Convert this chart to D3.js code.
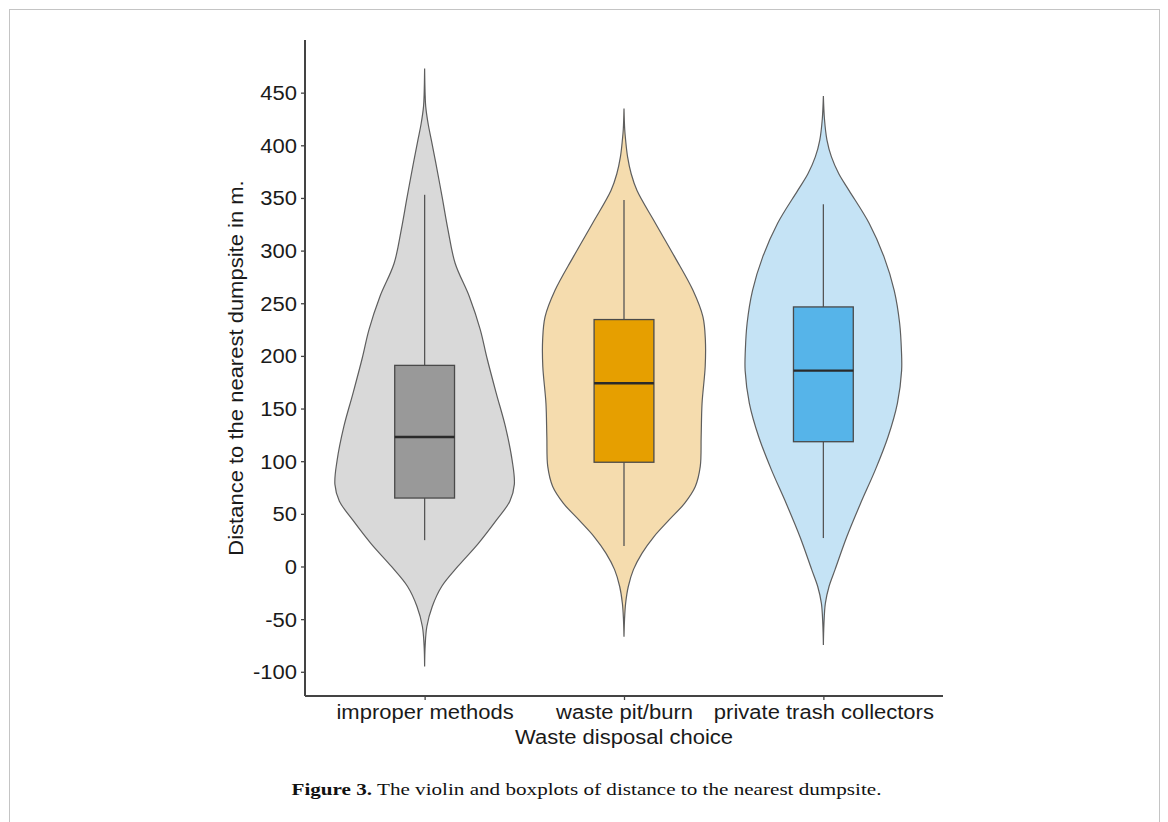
<!DOCTYPE html>
<html><head><meta charset="utf-8">
<script src="https://cdn.jsdelivr.net/npm/d3@7"></script>
<style>html,body{margin:0;padding:0;background:#fff;} svg{display:block;}</style>
</head><body><svg id="c" width="1168" height="822"></svg>
<script>
// ---------------- data ----------------
const categories = ["improper methods", "waste pit/burn", "private trash collectors"];
const yTicks = [-100, -50, 0, 50, 100, 150, 200, 250, 300, 350, 400, 450];
const yAxisTitle = "Distance to the nearest dumpsite in m.";
const xAxisTitle = "Waste disposal choice";
const captionBold = "Figure 3.";
const captionText = " The violin and boxplots of distance to the nearest dumpsite.";

// box statistics: [lower whisker, Q1, median, Q3, upper whisker]
const boxImproper = [25, 65, 123, 191, 353];
const boxPit = [19.5, 99, 174, 234.5, 348];
const boxPrivate = [27, 118.5, 186, 246.5, 344];

// violin outlines: [value, relative width (1 = widest violin)]
const violinImproper = [
  [473, 0], [450, 0.005], [437, 0.012], [420, 0.04], [405, 0.075], [383, 0.125], [351, 0.195],
  [320, 0.26], [288, 0.34], [256, 0.5], [225, 0.62], [198, 0.695], [164, 0.8],
  [133, 0.9], [101, 0.975], [78, 1.0], [62, 0.95], [44, 0.8], [22, 0.6],
  [0, 0.37], [-19, 0.19], [-38, 0.085], [-57, 0.025], [-75, 0.006], [-95, 0]
];
const violinPit = [
  [435, 0], [415, 0.008], [405, 0.018], [389, 0.04], [373, 0.08], [357, 0.145], [326, 0.35],
  [294, 0.565], [262, 0.77], [237, 0.88], [215, 0.907], [190, 0.905], [155, 0.87],
  [123, 0.86], [95, 0.85], [76, 0.795], [60, 0.675], [44, 0.5], [28, 0.33],
  [12.5, 0.2], [-3, 0.105], [-19, 0.048], [-35, 0.018], [-50, 0.006], [-66.6, 0]
];
const violinPrivate = [
  [446.7, 0], [425, 0.012], [405, 0.04], [389, 0.09], [373, 0.172], [357, 0.287],
  [326, 0.51], [294, 0.676], [262, 0.79], [231, 0.85], [205, 0.87], [186, 0.872],
  [155, 0.825], [123, 0.72], [92, 0.58], [60, 0.415], [28, 0.26], [-3, 0.13],
  [-19, 0.063], [-35, 0.022], [-55, 0.006], [-74.5, 0]
];

// ---------------- styles ----------------
const violinFill = ["#d9d9d9", "#f5dcae", "#c5e3f5"];
const boxFill = ["#999999", "#e69f00", "#56b4e9"];

(function () {
const sans = "'Liberation Sans', Arial, Helvetica, sans-serif";
const serif = "'Liberation Serif', 'Times New Roman', serif";

const svg = d3.select("#c");

// frame
svg.append("rect").attr("x", 9.5).attr("y", 9.5).attr("width", 1150).attr("height", 840)
  .attr("fill", "none").attr("stroke", "#c4c4c4").attr("stroke-width", 1);

const pLeft = 305, pRight = 943, pTop = 40, pBottom = 696;
const y = d3.scaleLinear().domain([-123, 500]).range([pBottom, pTop]);
const x = d3.scalePoint().domain(categories).range([pLeft, pRight]).padding(0.6);
const step = x.step();
const w = d3.scaleLinear().domain([0, 1]).range([0, 0.45 * step]);
const boxHalf = 0.15 * step;

const violins = [violinImproper, violinPit, violinPrivate];
const boxes = [boxImproper, boxPit, boxPrivate];

function stretch(sel, k) {
  sel.each(function () {
    const L = this.getComputedTextLength();
    d3.select(this).attr("textLength", L * k).attr("lengthAdjust", "spacingAndGlyphs");
  });
}

// violins
categories.forEach((cat, i) => {
  const cx = x(cat);
  const area = d3.area()
    .curve(d3.curveCatmullRom.alpha(0.5))
    .y(d => y(d[0]))
    .x0(d => cx - w(d[1]))
    .x1(d => cx + w(d[1]));
  svg.append("path").datum(violins[i])
    .attr("d", area)
    .attr("fill", violinFill[i])
    .attr("stroke", "#5e5e5e").attr("stroke-width", 1.2);
});

// boxes
categories.forEach((cat, i) => {
  const cx = x(cat);
  const b = boxes[i];
  const g = svg.append("g");
  g.append("line").attr("x1", cx).attr("x2", cx).attr("y1", y(b[0])).attr("y2", y(b[1]))
    .attr("stroke", "#555").attr("stroke-width", 1.3);
  g.append("line").attr("x1", cx).attr("x2", cx).attr("y1", y(b[3])).attr("y2", y(b[4]))
    .attr("stroke", "#555").attr("stroke-width", 1.3);
  g.append("rect").attr("x", cx - boxHalf).attr("width", 2 * boxHalf)
    .attr("y", y(b[3])).attr("height", y(b[1]) - y(b[3]))
    .attr("fill", boxFill[i]).attr("stroke", "#4a4a4a").attr("stroke-width", 1.3);
  g.append("line").attr("x1", cx - boxHalf).attr("x2", cx + boxHalf)
    .attr("y1", y(b[2])).attr("y2", y(b[2]))
    .attr("stroke", "#2a2a2a").attr("stroke-width", 2.4);
});

// axes
const yAxis = svg.append("g").attr("transform", `translate(${pLeft},0)`)
  .call(d3.axisLeft(y).tickValues(yTicks).tickFormat(d => String(d)).tickSize(4).tickPadding(4));
const xAxis = svg.append("g").attr("transform", `translate(0,${pBottom})`)
  .call(d3.axisBottom(x).tickSize(4).tickPadding(5));
[yAxis, xAxis].forEach(a => {
  a.select(".domain").attr("stroke", "#444").attr("stroke-width", 2);
  a.selectAll(".tick line").attr("stroke", "#444").attr("stroke-width", 1.3);
  a.selectAll(".tick text").attr("fill", "#1a1a1a").style("font-family", sans).style("font-size", "20px");
});
yAxis.select(".domain").attr("d", `M0,${pTop}V${pBottom}`);
xAxis.select(".domain").attr("d", `M${pLeft},0H${pRight}`);
yAxis.selectAll(".tick text").attr("dy", "0.35em");
xAxis.selectAll(".tick text").attr("dy", "0").attr("y", 23.3);
stretch(yAxis.selectAll(".tick text"), 1.1);
stretch(xAxis.selectAll(".tick text"), 1.1);

// axis titles
const yt = svg.append("text").attr("transform", `translate(242.5,${(pTop + pBottom) / 2}) rotate(-90)`)
  .attr("text-anchor", "middle").attr("fill", "#1a1a1a")
  .style("font-family", sans).style("font-size", "20px").text(yAxisTitle);
stretch(yt, 1.1);
const xt = svg.append("text").attr("x", (pLeft + pRight) / 2).attr("y", 744)
  .attr("text-anchor", "middle").attr("fill", "#1a1a1a")
  .style("font-family", sans).style("font-size", "20px").text(xAxisTitle);
stretch(xt, 1.1);

// caption
const cap = svg.append("text").attr("x", 586.5).attr("y", 795)
  .attr("text-anchor", "middle").attr("fill", "#111")
  .style("font-family", serif).style("font-size", "17.5px");
cap.append("tspan").style("font-weight", "bold").text(captionBold);
cap.append("tspan").text(captionText);
cap.attr("textLength", 590).attr("lengthAdjust", "spacingAndGlyphs");
})();
</script>
</body></html>
